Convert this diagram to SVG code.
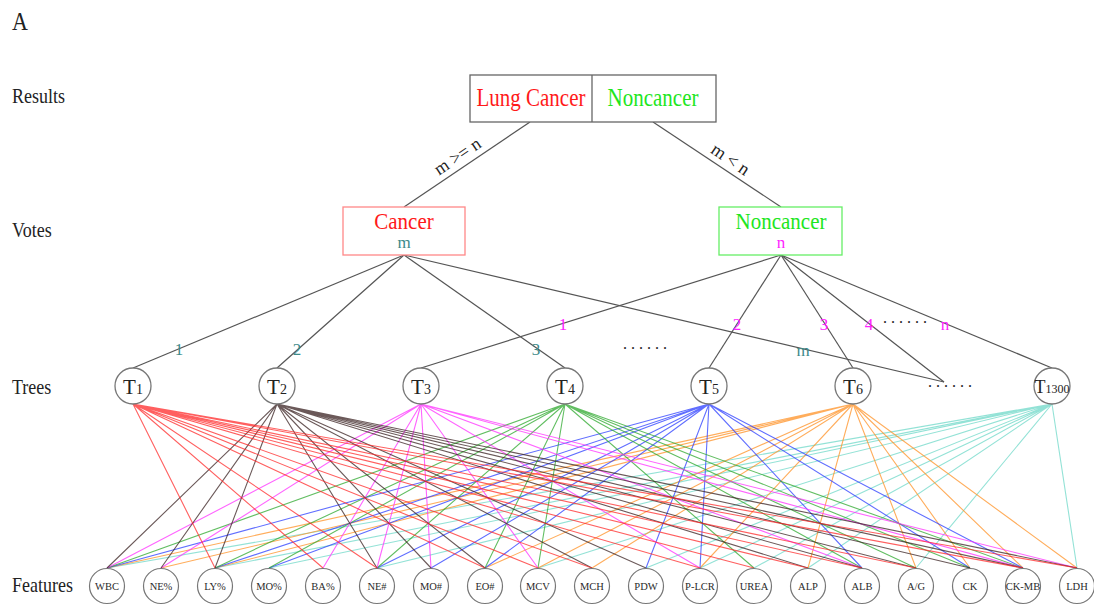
<svg xmlns="http://www.w3.org/2000/svg" width="1094" height="605" viewBox="0 0 1094 605">
<style>
text{font-family:"Liberation Serif","Times New Roman",serif;fill:#222}
.lab{font-size:18px}
.big{font-size:21px}
text.red{fill:#ff1a1a}
text.grn{fill:#1ee61e}
text.mag,.mag text{fill:#ff22ff}
text.teal,.teal text{fill:#3d8a8a}
.num text{font-size:17px}
.dots{font-size:16px;fill:#222}
.box{fill:#fff;stroke:#666;stroke-width:1.3}
.vc{fill:#fff;stroke:#ff8888;stroke-width:1.3}
.vn{fill:#fff;stroke:#66ee66;stroke-width:1.3}
.gl{stroke:#555;stroke-width:1.2;fill:none}
.tc{fill:#fff;stroke:#777;stroke-width:1.3}
.tt{font-size:21px;text-anchor:middle}
.ts{font-size:14px}
.fc{fill:#fff;stroke:#777;stroke-width:1.2}
.ft{font-size:10.5px;text-anchor:middle;fill:#2a2a2a}
.f{fill:none;stroke-width:1.1;stroke-opacity:.75}
.c1{stroke:#ff2a2a}
.c2{stroke:#3a2222}
.c3{stroke:#ff30ff}
.c4{stroke:#2ea82e}
.c5{stroke:#2b3dff}
.c6{stroke:#ff9126}
.c7{stroke:#6fd8c8}
</style>

<text transform="translate(12,30) scale(1,1.15)" style="font-size:22px">A</text>
<text class="lab" transform="translate(12,103) scale(1,1.15)">Results</text>
<text class="lab" transform="translate(12,237) scale(1,1.15)">Votes</text>
<text class="lab" transform="translate(12,394) scale(1,1.15)">Trees</text>
<text class="lab" transform="translate(12,592) scale(1,1.15)">Features</text>

<g id="connectors">
  <line class="gl" x1="530" y1="122" x2="404" y2="207"/>
  <line class="gl" x1="653" y1="122" x2="781" y2="207"/>
  <line class="gl" x1="404" y1="255" x2="133" y2="368"/>
  <line class="gl" x1="404" y1="255" x2="277" y2="368"/>
  <line class="gl" x1="404" y1="255" x2="565" y2="368"/>
  <line class="gl" x1="404" y1="255" x2="944" y2="382"/>
  <line class="gl" x1="781" y1="255" x2="421" y2="368"/>
  <line class="gl" x1="781" y1="255" x2="709" y2="368"/>
  <line class="gl" x1="781" y1="255" x2="853" y2="368"/>
  <line class="gl" x1="781" y1="255" x2="944" y2="382"/>
  <line class="gl" x1="781" y1="255" x2="1052" y2="368"/>
  <path class="f c7" d="M1052 404L107 568M1052 404L215 568M1052 404L269 568M1052 404L377 568M1052 404L538 568M1052 404L646 568M1052 404L700 568M1052 404L754 568M1052 404L808 568M1052 404L916 568M1052 404L1077 568"/>
  <path class="f c6" d="M853 404L107 568M853 404L161 568M853 404L215 568M853 404L485 568M853 404L538 568M853 404L592 568M853 404L700 568M853 404L808 568M853 404L916 568M853 404L970 568M853 404L1023 568M853 404L1077 568"/>
  <path class="f c5" d="M709 404L107 568M709 404L215 568M709 404L269 568M709 404L377 568M709 404L431 568M709 404L485 568M709 404L646 568M709 404L700 568M709 404L862 568M709 404L970 568M709 404L1023 568"/>
  <path class="f c4" d="M565 404L107 568M565 404L215 568M565 404L269 568M565 404L377 568M565 404L485 568M565 404L538 568M565 404L754 568M565 404L862 568M565 404L916 568M565 404L970 568M565 404L1023 568"/>
  <path class="f c3" d="M421 404L107 568M421 404L161 568M421 404L323 568M421 404L377 568M421 404L431 568M421 404L538 568M421 404L700 568M421 404L862 568M421 404L1023 568M421 404L1077 568"/>
  <path class="f c2" d="M277 404L107 568M277 404L161 568M277 404L215 568M277 404L377 568M277 404L431 568M277 404L485 568M277 404L592 568M277 404L646 568M277 404L808 568M277 404L862 568M277 404L916 568M277 404L970 568M277 404L1023 568M277 404L1077 568"/>
  <path class="f c1" d="M133 404L215 568M133 404L323 568M133 404L377 568M133 404L485 568M133 404L538 568M133 404L592 568M133 404L700 568M133 404L754 568M133 404L808 568M133 404L862 568M133 404L916 568M133 404L1023 568M133 404L1077 568"/>
  <g class="teal num" text-anchor="middle">
    <text x="179" y="355">1</text>
    <text x="297" y="355">2</text>
    <text x="536" y="355">3</text>
    <text x="803" y="356">m</text>
  </g>
  <g class="mag num" text-anchor="middle">
    <text x="563" y="330">1</text>
    <text x="737" y="330">2</text>
    <text x="824" y="330">3</text>
    <text x="869" y="330">4</text>
    <text x="945" y="330">n</text>
  </g>
  <text x="0" y="5" class="lab" text-anchor="middle" transform="translate(458,157) rotate(-34)">m &gt;= n</text>
  <text x="0" y="5" class="lab" text-anchor="middle" transform="translate(730,160) rotate(34)">m &lt; n</text>
  <text class="dots" x="883" y="323">. . . . . .</text>
  <text class="dots" x="623" y="349">. . . . . .</text>
  <text class="dots" x="928" y="387">. . . . . .</text>
</g>

<g id="result">
  <rect class="box" x="470" y="75" width="246" height="47"/>
  <line x1="592" y1="75" x2="592" y2="122" stroke="#666" stroke-width="1.3"/>
  <text class="big red" text-anchor="middle" transform="translate(531,106) scale(1,1.15)">Lung Cancer</text>
  <text class="big grn" text-anchor="middle" transform="translate(653,106) scale(1,1.15)">Noncancer</text>
</g>
<g id="vote-cancer">
  <rect class="vc" x="343" y="207" width="122" height="48"/>
  <text class="big red" text-anchor="middle" transform="translate(404,229) scale(1,1.12)">Cancer</text>
  <text class="teal" x="404" y="248" text-anchor="middle" style="font-size:17px">m</text>
</g>
<g id="vote-noncancer">
  <rect class="vn" x="719" y="207" width="123" height="48"/>
  <text class="big grn" text-anchor="middle" transform="translate(781,229) scale(1,1.12)">Noncancer</text>
  <text class="mag" x="781" y="248" text-anchor="middle" style="font-size:17px">n</text>
</g>

<g id="T1"><circle class="tc" cx="133" cy="386" r="18"/><text class="tt" x="133" y="394">T<tspan class="ts">1</tspan></text></g>
<g id="T2"><circle class="tc" cx="277" cy="386" r="18"/><text class="tt" x="277" y="394">T<tspan class="ts">2</tspan></text></g>
<g id="T3"><circle class="tc" cx="421" cy="386" r="18"/><text class="tt" x="421" y="394">T<tspan class="ts">3</tspan></text></g>
<g id="T4"><circle class="tc" cx="565" cy="386" r="18"/><text class="tt" x="565" y="394">T<tspan class="ts">4</tspan></text></g>
<g id="T5"><circle class="tc" cx="709" cy="386" r="18"/><text class="tt" x="709" y="394">T<tspan class="ts">5</tspan></text></g>
<g id="T6"><circle class="tc" cx="853" cy="386" r="18"/><text class="tt" x="853" y="394">T<tspan class="ts">6</tspan></text></g>
<g id="T1300"><circle class="tc" cx="1052" cy="386" r="18"/><text class="tt" x="1052" y="393" style="font-size:18px">T<tspan style="font-size:12px">1300</tspan></text></g>

<g id="WBC"><circle class="fc" cx="107" cy="586" r="17.5"/><text class="ft" x="107" y="590">WBC</text></g>
<g id="NEp"><circle class="fc" cx="161" cy="586" r="17.5"/><text class="ft" x="161" y="590">NE%</text></g>
<g id="LYp"><circle class="fc" cx="215" cy="586" r="17.5"/><text class="ft" x="215" y="590">LY%</text></g>
<g id="MOp"><circle class="fc" cx="269" cy="586" r="17.5"/><text class="ft" x="269" y="590">MO%</text></g>
<g id="BAp"><circle class="fc" cx="323" cy="586" r="17.5"/><text class="ft" x="323" y="590">BA%</text></g>
<g id="NEn"><circle class="fc" cx="377" cy="586" r="17.5"/><text class="ft" x="377" y="590">NE#</text></g>
<g id="MOn"><circle class="fc" cx="431" cy="586" r="17.5"/><text class="ft" x="431" y="590">MO#</text></g>
<g id="EOn"><circle class="fc" cx="485" cy="586" r="17.5"/><text class="ft" x="485" y="590">EO#</text></g>
<g id="MCV"><circle class="fc" cx="538" cy="586" r="17.5"/><text class="ft" x="538" y="590">MCV</text></g>
<g id="MCH"><circle class="fc" cx="592" cy="586" r="17.5"/><text class="ft" x="592" y="590">MCH</text></g>
<g id="PDW"><circle class="fc" cx="646" cy="586" r="17.5"/><text class="ft" x="646" y="590">PDW</text></g>
<g id="PLCR"><circle class="fc" cx="700" cy="586" r="17.5"/><text class="ft" x="700" y="590">P-LCR</text></g>
<g id="UREA"><circle class="fc" cx="754" cy="586" r="17.5"/><text class="ft" x="754" y="590">UREA</text></g>
<g id="ALP"><circle class="fc" cx="808" cy="586" r="17.5"/><text class="ft" x="808" y="590">ALP</text></g>
<g id="ALB"><circle class="fc" cx="862" cy="586" r="17.5"/><text class="ft" x="862" y="590">ALB</text></g>
<g id="AG"><circle class="fc" cx="916" cy="586" r="17.5"/><text class="ft" x="916" y="590">A/G</text></g>
<g id="CK"><circle class="fc" cx="970" cy="586" r="17.5"/><text class="ft" x="970" y="590">CK</text></g>
<g id="CKMB"><circle class="fc" cx="1023" cy="586" r="17.5"/><text class="ft" x="1023" y="590">CK-MB</text></g>
<g id="LDH"><circle class="fc" cx="1077" cy="586" r="17.5"/><text class="ft" x="1077" y="590">LDH</text></g>
</svg>
